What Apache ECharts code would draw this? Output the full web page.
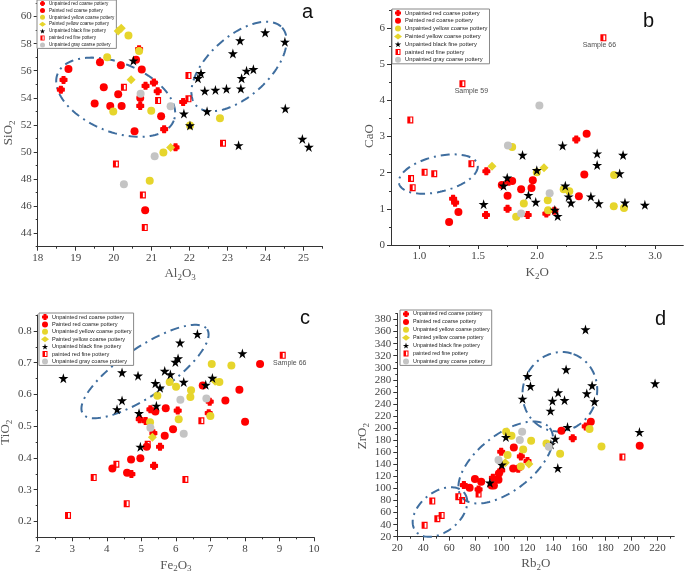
<!DOCTYPE html>
<html><head><meta charset="utf-8">
<script src="https://cdn.jsdelivr.net/npm/echarts@6/dist/echarts.min.js"></script>
<style>html,body{margin:0;padding:0;background:#fff}#c{width:685px;height:573px}</style>
</head><body><div id="c"></div>
<script>
// ---------- categories ----------
const categories = ['Unpainted red coarse pottery','Painted red coarse pottery','Unpainted yellow coarse pottery','Painted yellow coarse pottery','Unpainted black fine pottery','painted red fine pottery','Unpainted gray coarse pottery'];

// ---------- tick labels ----------
const aXTicks = [18,19,20,21,22,23,24,25];
const aYTicks = [44,46,48,50,52,54,56,58,60];
const bXTicks = [1.0,1.5,2.0,2.5,3.0];
const bYTicks = [0,1,2,3,4,5,6];
const cXTicks = [2,3,4,5,6,7,8,9,10];
const cYTicks = [0.2,0.3,0.4,0.5,0.6,0.7,0.8];
const dXTicks = [20,40,60,80,100,120,140,160,180,200,220];
const dYTicks = [20,40,60,80,100,120,140,160,180,200,220,240,260,280,300,320,340,360,380];

// ---------- panel a: Al2O3 vs SiO2 ----------
const aUnpaintedRed = [[18.61,54.6],[18.68,55.32],[20.67,57.59],[20.84,54.88],[21.06,55.12],[21.16,54.48],[21.33,51.68],[21.83,53.69],[21.63,50.34],[20.70,53.40]];
const aPaintedRed = [[18.81,56.13],[19.64,56.63],[19.74,54.78],[19.5,53.57],[19.91,53.4],[20.19,56.4],[20.12,54.26],[20.21,53.4],[20.59,56.8],[20.74,56.08],[20.70,53.99],[21.25,52.64],[20.55,51.53],[20.83,45.69]];
const aUnpaintedYellow = [[19.83,57.0],[20.39,58.6],[20.67,57.46],[19.99,52.98],[20.99,53.05],[21.31,49.95],[20.95,47.88],[22.8,52.49],[22.01,51.95]];
const aPaintedYellow = [[20.12,58.94],[20.2,59.14],[20.46,55.34],[21.5,50.32]];
const aBlack = [[20.52,56.75],[21.85,52.83],[22.01,51.95],[22.22,55.44],[22.3,55.81],[22.4,54.51],[22.46,53.0],[22.68,54.58],[22.97,54.66],[23.33,58.23],[23.14,57.27],[23.35,54.68],[23.37,55.44],[23.5,55.99],[23.68,56.11],[23.29,50.49],[23.99,58.82],[24.51,58.13],[24.52,53.2],[24.97,50.96],[25.14,50.37]];
const aRedFine = [[20.27,54.78],[21.17,53.79],[21.97,55.64],[21.97,53.92],[22.88,50.64],[20.06,49.11],[20.77,46.82],[20.82,44.41]];
const aGray = [[20.71,54.29],[21.5,53.37],[21.08,49.68],[20.27,47.61]];

// ---------- panel b: K2O vs CaO ----------
const bUnpaintedRed = [[1.287,1.28],[1.304,1.17],[1.569,2.04],[1.566,0.83],[1.749,1.0],[1.92,0.83],[2.078,0.87],[2.146,0.95],[2.332,2.92],[1.757,1.75]];
const bPaintedRed = [[1.253,0.636],[1.332,0.91],[1.70,1.66],[1.788,1.77],[1.749,1.36],[1.864,1.54],[1.952,1.58],[1.963,1.79],[2.42,3.08],[2.40,1.95],[2.354,1.35]];
const bUnpaintedYellow = [[1.788,2.71],[1.887,1.15],[1.822,0.78],[1.997,2.01],[2.09,1.235],[2.093,0.96],[2.225,1.54],[2.273,1.49],[2.653,1.935],[2.65,1.07],[2.737,1.02]];
const bPaintedYellow = [[1.617,2.175],[2.058,2.14]];
const bBlack = [[1.546,1.13],[1.746,1.86],[1.715,1.64],[1.876,2.49],[1.926,1.38],[1.988,1.19],[1.997,2.07],[2.15,0.97],[2.174,0.8],[2.216,2.75],[2.239,1.64],[2.267,1.34],[2.287,1.17],[2.456,1.34],[2.509,2.21],[2.509,2.53],[2.523,1.15],[2.70,1.98],[2.729,2.49],[2.745,1.17],[2.914,1.11]];
const bRedFine = [[2.562,5.73],[1.366,4.46],[0.924,3.46],[0.93,1.84],[0.944,1.585],[1.045,2.01],[1.127,1.97],[1.442,2.25]];
const bGray = [[2.019,3.86],[1.752,2.75],[2.106,1.43],[1.864,0.87]];

// ---------- panel c: Fe2O3 vs TiO2 ----------
const cUnpaintedRed = [[4.954,0.522],[5.35,0.478],[5.369,0.375],[5.542,0.435],[6.054,0.549],[6.981,0.577],[6.952,0.541],[5.263,0.553],[5.127,0.516],[4.713,0.349]];
const cPaintedRed = [[4.162,0.367],[4.587,0.353],[4.703,0.395],[4.973,0.399],[5.156,0.435],[5.407,0.546],[5.678,0.47],[5.707,0.556],[5.919,0.49],[6.778,0.628],[7.434,0.581],[7.84,0.615],[8.004,0.514],[8.438,0.696]];
const cUnpaintedYellow = [[5.253,0.512],[5.465,0.596],[5.822,0.639],[6.006,0.624],[6.083,0.522],[6.44,0.613],[6.421,0.592],[7.0,0.532],[7.039,0.696],[7.261,0.639],[7.608,0.691]];
const cPaintedYellow = [[5.32,0.465],[7.135,0.641]];
const cBlack = [[2.743,0.651],[4.297,0.553],[4.442,0.581],[4.442,0.669],[4.905,0.659],[4.934,0.541],[4.973,0.435],[5.407,0.635],[5.436,0.564],[5.542,0.621],[5.678,0.674],[5.842,0.663],[5.986,0.702],[6.064,0.713],[6.122,0.763],[6.228,0.639],[6.624,0.79],[6.865,0.63],[7.058,0.652],[7.927,0.729]];
const cRedFine = [[2.878,0.219],[3.622,0.338],[4.278,0.38],[4.577,0.256],[5.185,0.443],[6.276,0.332],[6.739,0.517],[9.095,0.723]];
const cGray = [[5.263,0.495],[6.131,0.583],[6.228,0.476],[6.884,0.587]];

// ---------- panel d: Rb2O vs ZrO2 ----------
const dUnpaintedRed = [[71.2,105.6],[82.5,98.4],[93.5,117.7],[99.9,129.9],[99.9,160.8],[113.0,132.6],[115.0,153.1],[120.1,145.3],[154.9,183.4],[164.9,202.8]];
const dPaintedRed = [[75.6,101.2],[79.7,115.5],[84.5,111.1],[92.5,105.0],[94.3,105.0],[97.8,114.4],[98.1,124.9],[109.1,133.2],[109.6,168.0],[146.2,195.6],[168.8,210.5],[206.4,170.7]];
const dUnpaintedYellow = [[103.7,193.9],[107.8,187.3],[104.8,155.3],[116.8,164.7],[122.9,179.0],[115.0,136.5],[134.7,174.6],[145.2,157.5],[167.8,198.4],[177.0,169.6]];
const dPaintedYellow = [[103.0,142.6],[121.2,140.4]];
const dBlack = [[164.7,363.5],[149.8,297.2],[120.1,286.2],[122.4,269.6],[143.7,259.1],[165.7,257.4],[169.8,270.7],[116.3,248.6],[139.3,245.3],[148.6,246.4],[171.6,244.2],[137.8,228.7],[218.2,274.0],[206.2,193.4],[150.9,201.7],[141.4,182.3],[138.1,173.0],[103.5,185.1],[100.4,139.3],[91.2,109.5],[143.4,133.7]];
const dRedFine = [[41.0,38.8],[46.9,79.1],[50.8,49.8],[54.1,55.3],[66.9,86.3],[69.9,80.2],[82.5,90.7],[193.1,152.0]];
const dGray = [[97.8,147.0],[114.2,180.1],[116.0,193.9],[136.5,169.1]];

// ---------- group ellipses: [centerX, centerY, majorEndX, majorEndY, minorEndX, minorEndY] (data units) ----------
const aEllipses = [[20.054,54.04,21.584,52.31,19.715,51.68],[23.301,56.312,24.437,59.177,23.831,54.665]];
const bEllipses = [[1.1613,1.963,1.4966,2.170,1.1588,1.460]];
const cEllipses = [[5.107,0.672,6.907,0.805,5.495,0.609]];
const dEllipses = [[52.81,60.94,71.56,92.6,62.26,34.75],[103.37,143.0,137.25,200.2,116.58,106.4],[145.01,260.35,155.53,322.7,171.75,239.4]];

// ---------- sample annotations ----------
const sampleLabels = [['b','Sample 59',1.366,4.46],['b','Sample 66',2.562,5.73],['c','Sample 66',9.095,0.723]];

// ================= rendering =================
const SERIF = "'Liberation Serif','DejaVu Serif',serif";
const NARROW = "'Liberation Sans Narrow','Arial Narrow','Liberation Sans',Arial,sans-serif";
const STAR = 'path://M50,0 L61,35 L98,35 L68,57 L79,91 L50,70 L21,91 L32,57 L2,35 L39,35 Z';
const CROSS = 'path://M3,0 H7 Q7.6,0 7.6,1 V2.4 H9 Q10,2.4 10,3 V7 Q10,7.6 9,7.6 H7.6 V9 Q7.6,10 7,10 H3 Q2.4,10 2.4,9 V7.6 H1 Q0,7.6 0,7 V3 Q0,2.4 1,2.4 H2.4 V1 Q2.4,0 3,0 Z';
const HALFSQ = 'path://M0,0 H10 V12 H0 Z M5,2 V10 H8 V2 Z';
const catStyle = [
  {symbol: CROSS, size: 8, color: '#ff0000'},
  {symbol: 'circle', size: 8, color: '#ff0000'},
  {symbol: 'circle', size: 8, color: '#e6d52c'},
  {symbol: 'diamond', size: 9, color: '#e6d52c'},
  {symbol: STAR, size: 10, color: '#000000'},
  {symbol: HALFSQ, size: [6,7], color: '#ff0000'},
  {symbol: 'circle', size: 8, color: '#c4c4c4'}
];

function minorList(min, max, step, majors) {
  const out = [];
  for (let k = Math.ceil(min / step - 1e-9); k * step <= max + 1e-9; k++) {
    const v = +(k * step).toFixed(6);
    if (!majors.some(m => Math.abs(m - v) < 1e-9)) out.push(v);
  }
  return out;
}
const subRich = {sub: {fontSize: 9, fontFamily: SERIF, color: '#555', padding: [7,0,0,0]}};

const panels = [
  {key:'a', rect:[37.7,3,284.8,243.7],
   x:{min:18,max:25.5,ticks:aXTicks,step:0.5,fmt:v=>String(v),name:'Al{sub|2}O{sub|3}',gap:19},
   y:{min:43,max:61,ticks:aYTicks,step:1,fmt:v=>String(v),name:'SiO{sub|2}',gap:19,pad:[0,16,0,0]},
   series:[aUnpaintedRed,aPaintedRed,aUnpaintedYellow,aPaintedYellow,aBlack,aRedFine,aGray], ellipses:aEllipses,
   legend:{left:37,top:0,font:4.6,gap:1.9,iw:7,ih:5}, letter:{text:'a',left:302,top:2}},
  {key:'b', rect:[391,10,292.3,235],
   x:{min:0.76,max:3.24,ticks:bXTicks,step:0.25,fmt:v=>v.toFixed(1),name:'K{sub|2}O',gap:20},
   y:{min:0,max:6.5,ticks:bYTicks,step:0.5,fmt:v=>String(v),name:'CaO',gap:14,pad:[0,17,0,0]},
   series:[bUnpaintedRed,bPaintedRed,bUnpaintedYellow,bPaintedYellow,bBlack,bRedFine,bGray], ellipses:bEllipses,
   legend:{left:392,top:9,font:5.8,gap:1.8,iw:8,ih:6}, letter:{text:'b',left:643,top:11}},
  {key:'c', rect:[37.7,315,276.3,222.3],
   x:{min:2,max:10,ticks:cXTicks,step:0.5,fmt:v=>String(v),name:'Fe{sub|2}O{sub|3}',gap:20},
   y:{min:0.15,max:0.85,ticks:cYTicks,step:0.05,fmt:v=>v.toFixed(1),name:'TiO{sub|2}',gap:24,pad:[0,12,0,0]},
   series:[cUnpaintedRed,cPaintedRed,cUnpaintedYellow,cPaintedYellow,cBlack,cRedFine,cGray], ellipses:cEllipses,
   legend:{left:39,top:313,font:5.6,gap:1.4,iw:8,ih:6}, letter:{text:'c',left:300,top:308}},
  {key:'d', rect:[397.3,313.5,277,223.2],
   x:{min:20,max:233,ticks:dXTicks,step:10,fmt:v=>String(v),name:'Rb{sub|2}O',gap:19},
   y:{min:20,max:390,ticks:dYTicks,step:10,fmt:v=>String(v),name:'ZrO{sub|2}',gap:26,pad:[0,22,0,0]},
   series:[dUnpaintedRed,dPaintedRed,dUnpaintedYellow,dPaintedYellow,dBlack,dRedFine,dGray], ellipses:dEllipses,
   legend:{left:400,top:310,font:5.4,gap:1.9,iw:8,ih:6}, letter:{text:'d',left:655,top:309}}
];

const grids = [], xAxes = [], yAxes = [], series = [], legends = [], titles = [];
const axisColor = '#333';
panels.forEach((p, i) => {
  const g = {left:p.rect[0], top:p.rect[1], width:p.rect[2], height:p.rect[3], outerBoundsMode:'none', containLabel:false};
  grids.push(Object.assign({}, g), Object.assign({}, g));
  const main = 2 * i, minor = 2 * i + 1;
  xAxes.push({
    type:'value', gridIndex:main, min:p.x.min, max:p.x.max, position:'bottom',
    name:p.x.name, nameLocation:'middle', nameGap:p.x.gap,
    nameTextStyle:{fontFamily:SERIF, fontSize:13, color:'#555', rich:subRich},
    axisLine:{show:true, onZero:false, lineStyle:{color:axisColor, width:1}},
    axisTick:{show:true, customValues:p.x.ticks, length:4, lineStyle:{color:axisColor}},
    axisLabel:{customValues:p.x.ticks, formatter:p.x.fmt, margin:6, fontFamily:SERIF, fontSize:11, color:'#444'},
    splitLine:{show:false}
  });
  xAxes.push({
    type:'value', gridIndex:minor, min:p.x.min, max:p.x.max, position:'bottom',
    axisLine:{show:false, onZero:false}, axisLabel:{show:false},
    axisTick:{show:true, customValues:minorList(p.x.min,p.x.max,p.x.step,p.x.ticks), length:2, lineStyle:{color:axisColor}},
    splitLine:{show:false}
  });
  yAxes.push({
    type:'value', gridIndex:main, min:p.y.min, max:p.y.max, position:'left',
    name:p.y.name, nameLocation:'middle', nameGap:p.y.gap, nameRotate:90,
    nameTextStyle:{fontFamily:SERIF, fontSize:13, color:'#555', rich:subRich, padding:p.y.pad},
    axisLine:{show:true, onZero:false, lineStyle:{color:axisColor, width:1}},
    axisTick:{show:true, customValues:p.y.ticks, length:4, lineStyle:{color:axisColor}},
    axisLabel:{customValues:p.y.ticks, formatter:p.y.fmt, margin:6, fontFamily:SERIF, fontSize:11, color:'#444'},
    splitLine:{show:false}
  });
  yAxes.push({
    type:'value', gridIndex:minor, min:p.y.min, max:p.y.max, position:'left',
    axisLine:{show:false, onZero:false}, axisLabel:{show:false},
    axisTick:{show:true, customValues:minorList(p.y.min,p.y.max,p.y.step,p.y.ticks), length:2, lineStyle:{color:axisColor}},
    splitLine:{show:false}
  });
  // ellipses
  series.push({
    type:'custom', xAxisIndex:main, yAxisIndex:main, data:p.ellipses, silent:true, z:1,
    renderItem:(params, api) => {
      const c = api.coord([api.value(0), api.value(1)]);
      const m = api.coord([api.value(2), api.value(3)]);
      const n = api.coord([api.value(4), api.value(5)]);
      const ux = m[0]-c[0], uy = m[1]-c[1], vx = n[0]-c[0], vy = n[1]-c[1];
      const pts = [];
      for (let k = 0; k <= 120; k++) {
        const t = k / 120 * Math.PI * 2;
        pts.push([c[0] + ux*Math.cos(t) + vx*Math.sin(t), c[1] + uy*Math.cos(t) + vy*Math.sin(t)]);
      }
      return {type:'polyline', shape:{points:pts}, style:{fill:null, stroke:'#3f6e9f', lineWidth:2, lineDash:[9,5,2,5]}};
    }
  });
  p.series.forEach((data, k) => {
    const s = catStyle[k];
    series.push({
      type:'scatter', name:categories[k], xAxisIndex:main, yAxisIndex:main, data:data,
      symbol:s.symbol, symbolSize:s.size, itemStyle:{color:s.color, opacity:1}, z:2+k,
      emphasis:{disabled:true}
    });
  });
  // sample labels
  const labs = sampleLabels.filter(l => l[0] === p.key);
  if (labs.length) {
    const offsets = {'Sample 59':[9,-1], 'Sample 66': p.key === 'b' ? [-4,-1] : [7,0]};
    series.push({
      type:'scatter', xAxisIndex:main, yAxisIndex:main, symbolSize:1, itemStyle:{color:'rgba(0,0,0,0)'}, silent:true, z:20,
      data: labs.map(l => ({name:l[1], value:[l[2], l[3]], label:{offset:offsets[l[1]]}})),
      label:{show:true, position:'bottom', distance:4, formatter:'{b}', fontFamily:NARROW, fontSize:7, color:'#222'}
    });
  }
  legends.push({
    orient:'vertical', left:p.legend.left, top:p.legend.top, data:categories, selectedMode:false,
    itemWidth:p.legend.iw, itemHeight:p.legend.ih, itemGap:p.legend.gap,
    textStyle:{fontFamily:NARROW, fontSize:p.legend.font, color:'#222', padding:[0,0,0,-2]},
    borderColor:'#888', borderWidth:1, padding:[1,2,1,2], backgroundColor:'#fff'
  });
  titles.push({text:p.letter.text, left:p.letter.left, top:p.letter.top, padding:0,
    textStyle:{fontFamily:"'Liberation Sans',Arial,sans-serif", fontSize:20, fontWeight:'normal', color:'#111'}});
});

const chart = echarts.init(document.getElementById('c'), null, {renderer:'canvas', width:685, height:573});
chart.setOption({
  animation:false, backgroundColor:'#fff',
  title:titles, legend:legends, grid:grids, xAxis:xAxes, yAxis:yAxes, series:series, tooltip:{show:false}
});
</script></body></html>
